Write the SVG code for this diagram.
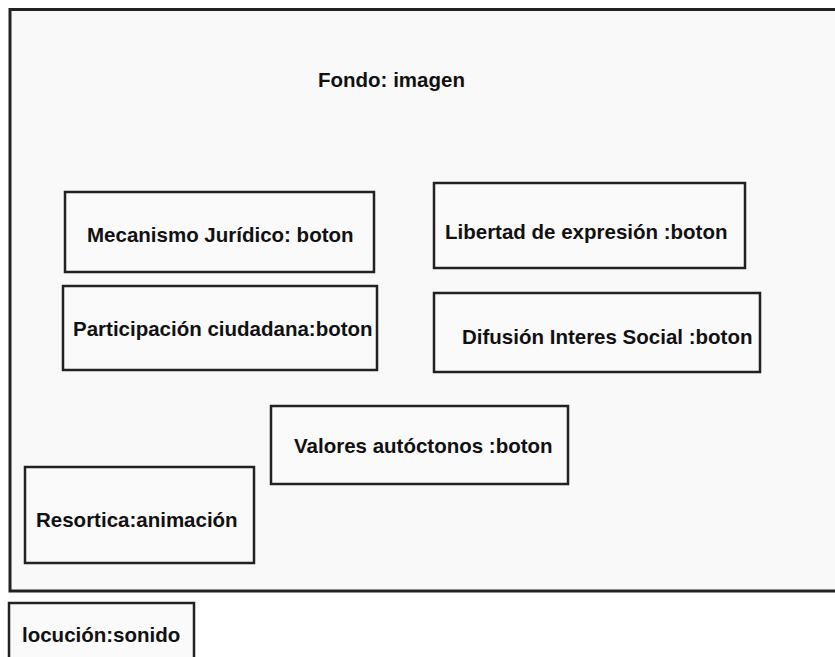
<svg xmlns="http://www.w3.org/2000/svg" width="835" height="657" viewBox="0 0 835 657">
  <style>
    .frame { fill: #f9f9f9; stroke: #222; stroke-width: 3; }
    .box { fill: #fafafa; stroke: #222; stroke-width: 2.5; }
    .lbl { font-family: "Liberation Sans", Arial, sans-serif; font-size: 20.5px; font-weight: bold; fill: #111; }
  </style>
  <rect width="835" height="657" fill="#ffffff"/>

  <!-- Screen background -->
  <g id="fondo">
    <rect class="frame" x="10" y="9.5" width="835" height="581.5"/>
    <text class="lbl" x="318" y="87">Fondo: imagen</text>
  </g>

  <g id="mecanismo">
    <rect class="box" x="65" y="192" width="309" height="80"/>
    <text class="lbl" x="87" y="242">Mecanismo Jurídico: boton</text>
  </g>

  <g id="participacion">
    <rect class="box" x="63" y="286" width="314" height="84"/>
    <text class="lbl" x="73" y="336">Participación ciudadana:boton</text>
  </g>

  <g id="libertad">
    <rect class="box" x="434" y="183" width="311" height="85"/>
    <text class="lbl" x="445" y="238.5">Libertad de expresión :boton</text>
  </g>

  <g id="difusion">
    <rect class="box" x="434" y="293" width="326" height="79"/>
    <text class="lbl" x="462" y="344">Difusión Interes Social :boton</text>
  </g>

  <g id="valores">
    <rect class="box" x="271" y="406" width="297" height="78"/>
    <text class="lbl" x="294" y="453">Valores autóctonos :boton</text>
  </g>

  <g id="resortica">
    <rect class="box" x="25" y="467" width="229" height="96"/>
    <text class="lbl" x="36" y="527">Resortica:animación</text>
  </g>

  <g id="locucion">
    <rect class="box" x="9" y="603" width="185" height="70"/>
    <text class="lbl" x="22" y="642">locución:sonido</text>
  </g>

  <g id="connectors"/>
</svg>
